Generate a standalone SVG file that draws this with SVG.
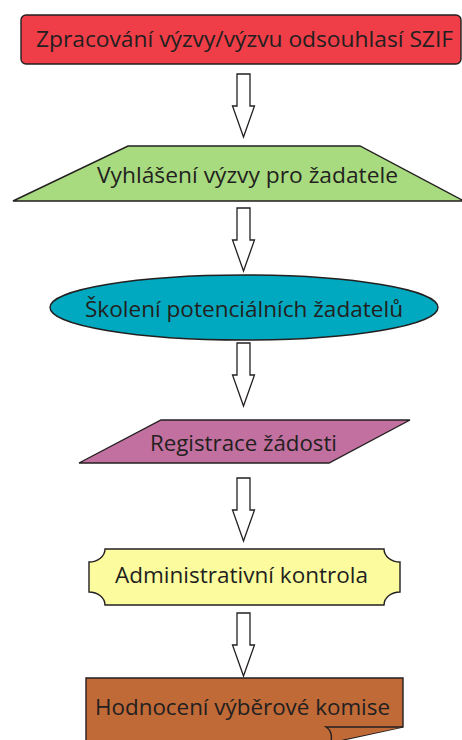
<svg xmlns="http://www.w3.org/2000/svg" width="462" height="740" viewBox="0 0 462 740">
<style>
.shape{stroke:#231F20;stroke-width:1.4;stroke-linejoin:miter}
.lbl{font-family:"Open Sans","Liberation Sans",sans-serif;font-size:22px;fill:#231F20}
.arrow{fill:#FFFFFF;stroke:#231F20;stroke-width:1.3}
</style>
<defs>
<path id="blk" d="M-6.5,0 H6.5 V32 H11 L0,63 L-11,32 H-6.5 Z"/>
</defs>
<rect width="462" height="740" fill="#FFFFFF"/>
<g id="n1">
<rect class="shape" x="21" y="15" width="440" height="49" rx="5" fill="#EF3E47"/>
<text class="lbl" x="36" y="47" textLength="417" lengthAdjust="spacingAndGlyphs">Zpracování výzvy/výzvu odsouhlasí SZIF</text>
</g>
<g id="n2">
<path class="shape" d="M128,146 H360 L464,201 H13 Z" fill="#A8DB7F"/>
<text class="lbl" x="97" y="183" textLength="301" lengthAdjust="spacingAndGlyphs">Vyhlášení výzvy pro žadatele</text>
</g>
<g id="n3">
<ellipse class="shape" cx="244" cy="307.5" rx="194" ry="32.5" fill="#00A9BF"/>
<text class="lbl" x="85" y="317" textLength="318" lengthAdjust="spacingAndGlyphs">Školení potenciálních žadatelů</text>
</g>
<g id="n4">
<path class="shape" d="M161,420 H410 L329,463 H79 Z" fill="#C2709F"/>
<text class="lbl" x="150" y="451" textLength="187" lengthAdjust="spacingAndGlyphs">Registrace žádosti</text>
</g>
<g id="n5">
<path class="shape" d="M105,549 H384 A16,13 0 0 0 400,562 V592 A16,13 0 0 0 384,605 H105 A16,13 0 0 0 89,592 V562 A16,13 0 0 0 105,549 Z" fill="#FCFC9E"/>
<text class="lbl" x="115" y="583" textLength="253" lengthAdjust="spacingAndGlyphs">Administrativní kontrola</text>
</g>
<g id="n6">
<path class="shape" d="M86,678 H403 V727 L297,750 H86 Z" fill="#C06A38"/>
<path class="shape" d="M403,727 H326 Q333,731 331,742" fill="#C06A38"/>
<text class="lbl" x="95" y="715" textLength="295" lengthAdjust="spacingAndGlyphs">Hodnocení výběrové komise</text>
</g>
<g id="connectors">
<use class="arrow" href="#blk" x="243.5" y="74"/>
<use class="arrow" href="#blk" x="243.5" y="208"/>
<use class="arrow" href="#blk" x="243.5" y="343"/>
<use class="arrow" href="#blk" x="243.5" y="478"/>
<use class="arrow" href="#blk" x="243.5" y="613"/>
</g>
</svg>
